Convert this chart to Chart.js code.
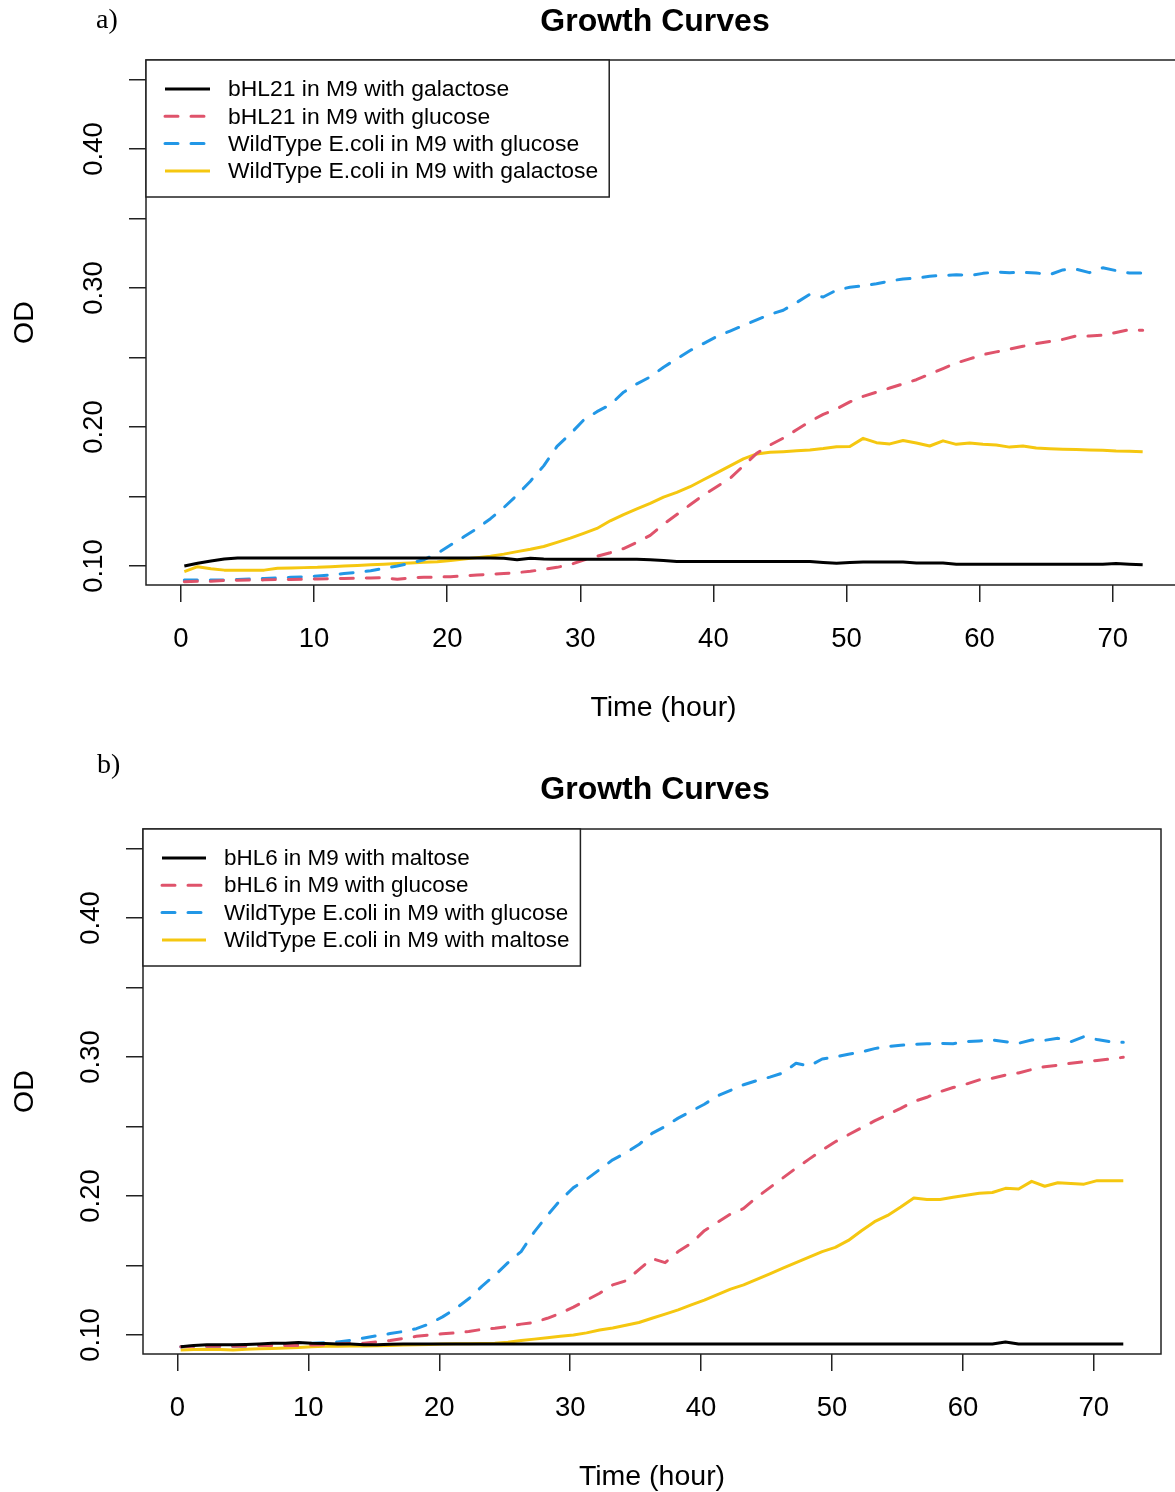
<!DOCTYPE html>
<html><head><meta charset="utf-8">
<script src="https://cdn.jsdelivr.net/npm/chart.js@4.4.0/dist/chart.umd.min.js"></script>
<style>
html,body{margin:0;padding:0;overflow:hidden;background:#fff;width:1175px;height:1492px;}
.wrap{position:absolute;left:0;}
</style></head><body>
<div class="wrap" style="top:0;"><canvas id="ca" width="1200" height="740" style="width:1200px;height:740px"></canvas></div>
<div class="wrap" style="top:740px;"><canvas id="cb" width="1175" height="752" style="width:1175px;height:752px"></canvas></div>
<script>
// ---------- data ----------
const hours = [0.25,1.25,2.25,3.25,4.25,5.25,6.25,7.25,8.25,9.25,10.25,11.25,12.25,13.25,14.25,15.25,16.25,17.25,18.25,19.25,
20.25,21.25,22.25,23.25,24.25,25.25,26.25,27.25,28.25,29.25,30.25,31.25,32.25,33.25,34.25,35.25,36.25,37.25,38.25,39.25,
40.25,41.25,42.25,43.25,44.25,45.25,46.25,47.25,48.25,49.25,50.25,51.25,52.25,53.25,54.25,55.25,56.25,57.25,58.25,59.25,
60.25,61.25,62.25,63.25,64.25,65.25,66.25,67.25,68.25,69.25,70.25,71.25,72.25];

const xTickValues = [0,10,20,30,40,50,60,70];
const xTickLabels = ['0','10','20','30','40','50','60','70'];
const yTickValues = [0.10,0.15,0.20,0.25,0.30,0.35,0.40,0.45];
const yTickLabels = ['0.10','','0.20','','0.30','','0.40',''];

// panel a
const aLabels = ['bHL21 in M9 with galactose','bHL21 in M9 with glucose','WildType E.coli in M9 with glucose','WildType E.coli in M9 with galactose'];
const aBlack = [0.100,0.102,0.1035,0.105,0.1058,0.1058,0.1058,0.1058,0.1058,0.1058,0.1058,0.1058,0.1058,0.1058,0.1058,0.1058,0.1058,0.1058,0.1058,0.1058,
0.1058,0.1058,0.1058,0.1058,0.1055,0.1045,0.1055,0.105,0.1048,0.1048,0.1048,0.1048,0.1048,0.1048,0.1048,0.1045,0.104,0.1032,0.1032,0.1032,
0.1032,0.1032,0.1032,0.1032,0.1032,0.1032,0.1032,0.1032,0.1025,0.102,0.1025,0.1028,0.1028,0.1028,0.1028,0.1022,0.1022,0.1022,0.1012,0.1012,
0.1012,0.1012,0.1012,0.1012,0.1012,0.1012,0.1012,0.1012,0.1012,0.1012,0.1018,0.1012,0.1008];
const aRed = [0.0887,0.089,0.089,0.0895,0.0897,0.0899,0.090,0.0902,0.0903,0.0905,0.0906,0.0908,0.091,0.0912,0.0914,0.0916,0.0904,0.0915,0.0918,0.092,
0.0923,0.0928,0.0935,0.094,0.0945,0.0952,0.0962,0.0975,0.099,0.101,0.1043,0.107,0.1095,0.1125,0.117,0.122,0.130,0.137,0.144,0.151,
0.157,0.163,0.172,0.181,0.187,0.192,0.198,0.204,0.209,0.213,0.218,0.222,0.225,0.228,0.231,0.234,0.238,0.242,0.246,0.249,
0.252,0.254,0.256,0.258,0.260,0.2615,0.263,0.2655,0.2655,0.266,0.268,0.270,0.2695];
const aBlue = [0.0899,0.0899,0.0899,0.0899,0.0902,0.0906,0.091,0.0914,0.0918,0.0922,0.0928,0.0936,0.0945,0.0955,0.0965,0.0983,0.100,0.102,0.1045,0.109,
0.1151,0.121,0.127,0.134,0.142,0.151,0.161,0.172,0.186,0.195,0.205,0.211,0.216,0.225,0.231,0.236,0.243,0.249,0.255,0.260,
0.265,0.269,0.273,0.277,0.281,0.284,0.2895,0.2955,0.2935,0.2985,0.3005,0.3015,0.303,0.305,0.3065,0.307,0.3085,0.309,0.3095,0.309,
0.3105,0.3115,0.311,0.3112,0.3108,0.3095,0.313,0.3135,0.311,0.3145,0.3125,0.3108,0.3108];
const aYellow = [0.0959,0.0995,0.098,0.097,0.097,0.097,0.097,0.0983,0.0985,0.0988,0.099,0.0995,0.100,0.1003,0.1008,0.1012,0.1017,0.1022,0.1027,0.1031,
0.104,0.105,0.106,0.107,0.1085,0.1103,0.112,0.114,0.117,0.120,0.1235,0.127,0.1325,0.137,0.141,0.145,0.1495,0.153,0.157,0.162,
0.167,0.172,0.177,0.1806,0.1818,0.1822,0.1828,0.1835,0.1845,0.1858,0.186,0.1918,0.1887,0.1878,0.1902,0.1885,0.1863,0.190,0.1875,0.1885,
0.1875,0.187,0.1855,0.1863,0.1848,0.1844,0.184,0.1838,0.1835,0.1833,0.1827,0.1825,0.1822];

// panel b
const bLabels = ['bHL6 in M9 with maltose','bHL6 in M9 with glucose','WildType E.coli in M9 with glucose','WildType E.coli in M9 with maltose'];
const bBlack = [0.0915,0.0925,0.093,0.093,0.093,0.0932,0.0935,0.094,0.094,0.0945,0.094,0.0938,0.0935,0.0935,0.093,0.093,0.0933,0.0935,0.0935,0.0935,
0.0935,0.0935,0.0935,0.0935,0.0935,0.0935,0.0935,0.0935,0.0935,0.0935,0.0935,0.0935,0.0935,0.0935,0.0935,0.0935,0.0935,0.0935,0.0935,0.0935,
0.0935,0.0935,0.0935,0.0935,0.0935,0.0935,0.0935,0.0935,0.0935,0.0935,0.0935,0.0935,0.0935,0.0935,0.0935,0.0935,0.0935,0.0935,0.0935,0.0935,
0.0935,0.0935,0.0935,0.095,0.0935,0.0935,0.0935,0.0935,0.0935,0.0935,0.0935,0.0935,0.0935];
const bRed = [0.0916,0.0918,0.0918,0.0918,0.0918,0.092,0.0924,0.0924,0.0924,0.0924,0.0928,0.093,0.0935,0.0938,0.094,0.095,0.096,0.0975,0.099,0.100,
0.1008,0.1015,0.1025,0.104,0.1048,0.106,0.1078,0.109,0.112,0.1156,0.120,0.125,0.130,0.136,0.139,0.147,0.155,0.152,0.160,0.166,
0.175,0.181,0.187,0.191,0.199,0.206,0.213,0.220,0.2265,0.233,0.239,0.244,0.249,0.254,0.2585,0.263,0.268,0.271,0.275,0.278,
0.2805,0.2835,0.2847,0.287,0.2885,0.291,0.293,0.294,0.2955,0.2965,0.2975,0.2985,0.2998];
const bBlue = [0.0916,0.0918,0.0918,0.0918,0.0918,0.092,0.0925,0.093,0.0933,0.0937,0.094,0.0945,0.095,0.0962,0.0978,0.0995,0.101,0.1025,0.1045,0.108,
0.113,0.119,0.126,0.135,0.143,0.152,0.160,0.174,0.186,0.197,0.206,0.212,0.219,0.226,0.231,0.237,0.245,0.250,0.256,0.261,
0.266,0.272,0.276,0.280,0.283,0.2855,0.2885,0.2955,0.2935,0.2985,0.300,0.302,0.3035,0.306,0.3075,0.3085,0.309,0.3095,0.3098,0.3095,
0.311,0.3115,0.3122,0.311,0.3098,0.3122,0.312,0.3134,0.311,0.3146,0.3125,0.311,0.3105];
const bYellow = [0.0892,0.0895,0.0898,0.0895,0.0892,0.0898,0.090,0.0903,0.0906,0.091,0.0916,0.0918,0.0919,0.092,0.0921,0.0922,0.0925,0.0928,0.093,0.0932,
0.0935,0.0936,0.0937,0.0938,0.094,0.0948,0.096,0.097,0.098,0.099,0.100,0.1015,0.1035,0.105,0.107,0.109,0.112,0.115,0.118,0.1216,
0.125,0.129,0.133,0.136,0.140,0.144,0.148,0.152,0.156,0.160,0.163,0.168,0.175,0.1815,0.186,0.192,0.1985,0.1975,0.1975,0.199,
0.2005,0.2019,0.2025,0.2055,0.205,0.2105,0.207,0.2095,0.209,0.2085,0.211,0.211,0.211];

const seriesColors = ['#000000','#DF536B','#2297E6','#F5C710'];
const seriesDashed = [false,true,true,false];
const chartTitle = 'Growth Curves';
const xTitle = 'Time (hour)';
const yTitle = 'OD';

// ---------- drawing ----------
const SANS = "'Liberation Sans', Arial, Helvetica, sans-serif";
const SERIF = "'Liberation Serif', 'Times New Roman', serif";
const X_MIN = -2.63, X_MAX = 75.13, Y_MIN = 0.0863, Y_MAX = 0.464;
const DASH = [13, 13];

function decorPlugin(opt) {
  return {
    id: 'decor',
    afterDraw(chart) {
      const c = chart.ctx, a = chart.chartArea;
      const xs = chart.scales.x, ys = chart.scales.y;
      c.save();
      // box
      c.strokeStyle = '#222'; c.lineWidth = 1.5;
      c.strokeRect(a.left, a.top, a.right - a.left, a.bottom - a.top);
      c.fillStyle = '#000';
      // x tick labels
      c.font = '27.5px ' + SANS; c.textAlign = 'center'; c.textBaseline = 'middle';
      xs.ticks.forEach((t, i) => {
        c.fillText(xTickLabels[i], xs.getPixelForValue(t.value), a.bottom + 54);
      });
      // y tick labels (rotated)
      ys.ticks.forEach((t, i) => {
        const lab = yTickLabels[i]; if (!lab) return;
        c.save(); c.translate(a.left - 52, ys.getPixelForValue(t.value)); c.rotate(-Math.PI / 2);
        c.fillText(lab, 0, 0); c.restore();
      });
      // axis titles
      c.font = '28.5px ' + SANS;
      c.fillText(xTitle, (a.left + a.right) / 2, a.bottom + 123);
      c.save(); c.translate(25, (a.top + a.bottom) / 2); c.rotate(-Math.PI / 2);
      c.fillText(yTitle, 0, 0); c.restore();
      // main title
      c.font = 'bold 32px ' + SANS;
      c.fillText(chartTitle, opt.titleX, opt.titleY);
      // panel tag
      c.font = '28px ' + SERIF; c.textAlign = 'left';
      c.fillText(opt.tag, opt.tagX, opt.tagY);
      // legend
      c.font = opt.legendFont + 'px ' + SANS;
      const ds = chart.data.datasets;
      let maxW = 0; ds.forEach(d => { maxW = Math.max(maxW, c.measureText(d.label).width); });
      const lx = a.left, ly = a.top, rowH = 27.3;
      const lw = opt.textOff + maxW + 11, lh = 28 + rowH * ds.length - 0.2;
      c.fillStyle = '#fff'; c.fillRect(lx, ly, lw, lh);
      c.strokeStyle = '#222'; c.lineWidth = 1.5; c.strokeRect(lx, ly, lw, lh);
      ds.forEach((d, i) => {
        const y = ly + 29 + i * rowH;
        c.strokeStyle = d.borderColor; c.lineWidth = 3;
        c.lineCap = d.borderDash.length ? 'round' : 'butt';
        c.setLineDash(d.borderDash);
        c.beginPath(); c.moveTo(lx + 19, y); c.lineTo(lx + opt.textOff - 18, y); c.stroke();
        c.setLineDash([]);
        c.fillStyle = '#000'; c.textAlign = 'left'; c.textBaseline = 'middle';
        c.fillText(d.label, lx + opt.textOff, y + 1);
      });
      c.restore();
    }
  };
}

function build(id, W, H, box, labels, values, tagOpt) {
  const datasets = values.map((vals, i) => ({
    label: labels[i],
    data: hours.map((h, k) => ({ x: h, y: vals[k] })),
    borderColor: seriesColors[i],
    borderWidth: 3,
    borderDash: seriesDashed[i] ? DASH : [],
    borderCapStyle: seriesDashed[i] ? 'round' : 'butt',
    borderJoinStyle: 'round',
    pointRadius: 0,
    tension: 0,
    fill: false
  }));
  const gridOpt = { display: true, drawOnChartArea: false, drawTicks: true, tickLength: 17, color: '#222', lineWidth: 1.5 };
  new Chart(document.getElementById(id), {
    type: 'line',
    data: { datasets },
    options: {
      responsive: false, animation: false, events: [],
      layout: { padding: { left: 0, top: box.top, right: W - box.right, bottom: H - box.bottom } },
      plugins: { legend: { display: false }, tooltip: { enabled: false }, title: { display: false } },
      scales: {
        x: {
          type: 'linear', min: X_MIN, max: X_MAX,
          afterFit: s => { s.height = 0; },
          afterBuildTicks: s => { s.ticks = xTickValues.map(v => ({ value: v })); },
          ticks: { display: false },
          grid: gridOpt, border: { display: false }
        },
        y: {
          type: 'linear', min: Y_MIN, max: Y_MAX,
          afterFit: s => { s.width = box.left; },
          afterBuildTicks: s => { s.ticks = yTickValues.map(v => ({ value: v })); },
          ticks: { display: false },
          grid: gridOpt, border: { display: false }
        }
      }
    },
    plugins: [decorPlugin(tagOpt)]
  });
}

build('ca', 1200, 740, { left: 146, top: 60, right: 1181, bottom: 585 }, aLabels,
  [aBlack, aRed, aBlue, aYellow], { tag: 'a)', tagX: 96, tagY: 21, titleX: 655, titleY: 22, legendFont: 22.9, textOff: 82 });
build('cb', 1175, 752, { left: 143, top: 89, right: 1161, bottom: 614 }, bLabels,
  [bBlack, bRed, bBlue, bYellow], { tag: 'b)', tagX: 97, tagY: 26, titleX: 655, titleY: 50, legendFont: 22.45, textOff: 81 });
</script>
</body></html>
